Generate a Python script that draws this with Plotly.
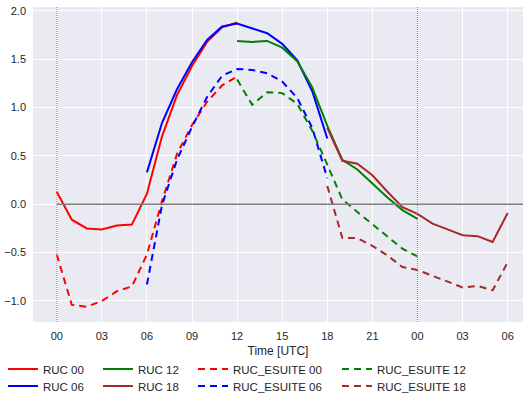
import plotly.graph_objects as go

# ---------------- data ----------------
tick_vals = [0, 3, 6, 9, 12, 15, 18, 21, 24, 27, 30]
tick_text = ["00", "03", "06", "09", "12", "15", "18", "21", "00", "03", "06"]
y_tick_vals = [-1.0, -0.5, 0.0, 0.5, 1.0, 1.5, 2.0]
y_tick_text = ["\u22121.0", "\u22120.5", "0.0", "0.5", "1.0", "1.5", "2.0"]
day_boundaries = [0, 24]

hours_00 = list(range(0, 13))
ruc_00 = [0.13, -0.16, -0.25, -0.26, -0.22, -0.21, 0.11, 0.70, 1.13, 1.43, 1.68, 1.83, 1.88]
esuite_00 = [-0.52, -1.04, -1.06, -1.00, -0.90, -0.85, -0.52, 0.03, 0.52, 0.82, 1.06, 1.23, 1.32]

hours_06 = list(range(6, 19))
ruc_06 = [0.33, 0.84, 1.19, 1.47, 1.70, 1.84, 1.87, 1.82, 1.77, 1.66, 1.49, 1.17, 0.68]
esuite_06 = [-0.83, -0.01, 0.46, 0.80, 1.11, 1.33, 1.40, 1.39, 1.355, 1.27, 1.10, 0.79, 0.27]

hours_12 = list(range(12, 25))
ruc_12 = [1.69, 1.68, 1.69, 1.62, 1.48, 1.21, 0.81, 0.46, 0.36, 0.21, 0.07, -0.06, -0.15]
esuite_12 = [1.29, 1.03, 1.16, 1.15, 1.04, 0.76, 0.41, 0.05, -0.08, -0.21, -0.34, -0.46, -0.54]

hours_18 = list(range(18, 31))
ruc_18 = [0.79, 0.45, 0.42, 0.30, 0.13, -0.03, -0.10, -0.20, -0.26, -0.32, -0.33, -0.39, -0.09]
esuite_18 = [0.19, -0.35, -0.35, -0.43, -0.53, -0.65, -0.68, -0.74, -0.80, -0.86, -0.845, -0.89, -0.60]

series = [
    ("RUC 00", hours_00, ruc_00, "red", "solid", 0),
    ("RUC_ESUITE 00", hours_00, esuite_00, "red", "dash", 4),
    ("RUC 06", hours_06, ruc_06, "blue", "solid", 1),
    ("RUC_ESUITE 06", hours_06, esuite_06, "blue", "dash", 5),
    ("RUC 12", hours_12, ruc_12, "green", "solid", 2),
    ("RUC_ESUITE 12", hours_12, esuite_12, "green", "dash", 6),
    ("RUC 18", hours_18, ruc_18, "brown", "solid", 3),
    ("RUC_ESUITE 18", hours_18, esuite_18, "brown", "dash", 7),
]

W, H = 527, 394
ML, MR, MT, MB = 33, 4, 7, 72
PW, PH = W - ML - MR, H - MT - MB
FONT = dict(family="Liberation Sans, Arial, sans-serif", size=11, color="#262626")

fig = go.Figure()
# legend slot positions (pixels): column left x, row centre y
col_x = [3, 98, 193, 337]
row_y = [369, 386]

layout_legends = {}
for name, xs, ys, color, dash, slot in series:
    key = "legend" if slot == 0 else f"legend{slot + 1}"
    fig.add_trace(go.Scatter(
        x=xs, y=ys, mode="lines", name=name,
        line=dict(color=color, width=2, dash="7px,5px" if dash == "dash" else "solid"),
        legend=key,
    ))
    col = slot // 2
    row = slot % 2
    layout_legends[key] = dict(
        xref="paper", yref="paper",
        x=(col_x[col] - ML) / PW, y=(H - MB - row_y[row]) / PH,
        xanchor="left", yanchor="middle",
        bgcolor="rgba(0,0,0,0)", borderwidth=0,
        font=dict(family=FONT["family"], size=11.5, color="#262626"),
    )

x_range = [-1.58, 31.02]
shapes = []
for d in day_boundaries:
    shapes.append(dict(type="line", xref="x", yref="paper", x0=d, x1=d, y0=0, y1=1,
                       line=dict(color="#888888", width=1, dash="1px,1px"), layer="above"))
shapes.append(dict(type="line", xref="x", yref="y", x0=0, x1=x_range[1], y0=0, y1=0,
                   line=dict(color="#808080", width=1.3), layer="above"))

fig.update_layout(
    width=W, height=H,
    margin=dict(l=ML, r=MR, t=MT, b=MB, autoexpand=False),
    paper_bgcolor="white",
    plot_bgcolor="#eaeaf2",
    font=FONT,
    shapes=shapes,
    showlegend=True,
    **layout_legends,
)
fig.update_xaxes(
    range=x_range, tickvals=tick_vals, ticktext=tick_text,
    showgrid=True, gridcolor="white", gridwidth=1, zeroline=False, showline=False,
    ticks="", ticklabelstandoff=6, automargin=False,
    title=dict(text="Time [UTC]", font=dict(size=12), standoff=5),
)
fig.update_yaxes(
    range=[-1.218, 2.041], tickvals=y_tick_vals, ticktext=y_tick_text,
    showgrid=True, gridcolor="white", gridwidth=1, zeroline=False, showline=False,
    ticks="", ticklabelstandoff=6, automargin=False,
)

fig.write_html("out.html")
